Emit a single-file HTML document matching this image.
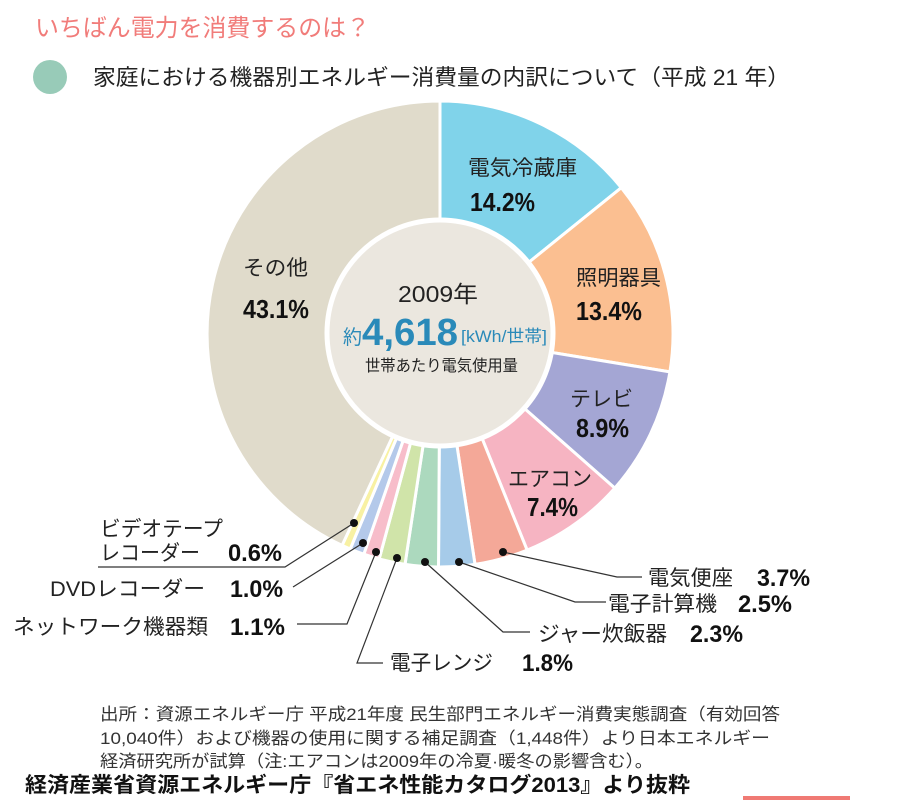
<!DOCTYPE html>
<html>
<head>
<meta charset="utf-8">
<style>
html,body{margin:0;padding:0;background:#fff;}
svg{display:block;}
text{font-family:"Liberation Sans","Noto Sans CJK JP",sans-serif;}
.b{font-weight:bold;}
</style>
</head>
<body>
<svg width="900" height="800" viewBox="0 0 900 800" xmlns="http://www.w3.org/2000/svg">
<rect width="900" height="800" fill="#fff"/>

<!-- Title -->
<text x="35" y="36" font-size="24" fill="#f17c7a" textLength="335" lengthAdjust="spacingAndGlyphs">いちばん電力を消費するのは？</text>

<!-- Subtitle -->
<circle cx="50" cy="77" r="17" fill="#98cbb8"/>
<text x="93" y="85" font-size="22" fill="#222" textLength="697" lengthAdjust="spacingAndGlyphs">家庭における機器別エネルギー消費量の内訳について（平成 21 年）</text>

<!-- Pie -->
<g stroke="#fff" stroke-width="3" stroke-linejoin="round">
<path d="M440,334 L440,101 A233,233 0 0,1 621.3,187.7 Z" fill="#80d3ea"/>
<path d="M440,334 L621.3,187.7 A233,233 0 0,1 669.9,371.9 Z" fill="#fbbf91"/>
<path d="M440,334 L669.9,371.9 A233,233 0 0,1 614.8,488.1 Z" fill="#a4a6d4"/>
<path d="M440,334 L614.8,488.1 A233,233 0 0,1 527.1,550.1 Z" fill="#f6b4c2"/>
<path d="M440,334 L527.1,550.1 A233,233 0 0,1 475.0,564.4 Z" fill="#f4a898"/>
<path d="M440,334 L475.0,564.4 A233,233 0 0,1 438.5,567.0 Z" fill="#a6cbe9"/>
<path d="M440,334 L438.5,567.0 A233,233 0 0,1 405.0,564.4 Z" fill="#acd9be"/>
<path d="M440,334 L405.0,564.4 A233,233 0 0,1 379.2,558.9 Z" fill="#d0e4a9"/>
<path d="M440,334 L379.2,558.9 A233,233 0 0,1 363.8,554.2 Z" fill="#f7bdca"/>
<path d="M440,334 L363.8,554.2 A233,233 0 0,1 350.2,549.0 Z" fill="#b4c9ea"/>
<path d="M440,334 L350.2,549.0 A233,233 0 0,1 342.1,545.4 Z" fill="#f8f1a3"/>
<path d="M440,334 L342.1,545.4 A233,233 0 0,1 440,101 Z" fill="#e0dbcb"/>
</g>
<circle cx="440" cy="333" r="113" fill="#ebe7df" stroke="#fff" stroke-width="5"/>

<!-- Center text -->
<text x="398" y="302" font-size="23" fill="#222" textLength="80" lengthAdjust="spacingAndGlyphs">2009年</text>
<text x="343" y="344" font-size="20" fill="#2a8ab9" textLength="19" lengthAdjust="spacingAndGlyphs">約</text>
<text x="362" y="345" font-size="38" class="b" fill="#2a8ab9" textLength="96" lengthAdjust="spacingAndGlyphs">4,618</text>
<text x="461" y="342" font-size="17" fill="#2a8ab9" textLength="86" lengthAdjust="spacingAndGlyphs">[kWh/世帯]</text>
<text x="365" y="371" font-size="16" fill="#222" textLength="153" lengthAdjust="spacingAndGlyphs">世帯あたり電気使用量</text>

<!-- In-pie labels -->
<g fill="#222" font-size="21">
<text x="468" y="175" textLength="109" lengthAdjust="spacingAndGlyphs">電気冷蔵庫</text>
<text x="576" y="285" textLength="85" lengthAdjust="spacingAndGlyphs">照明器具</text>
<text x="570" y="406" textLength="63" lengthAdjust="spacingAndGlyphs">テレビ</text>
<text x="508" y="486" textLength="84" lengthAdjust="spacingAndGlyphs">エアコン</text>
<text x="243" y="275" textLength="65" lengthAdjust="spacingAndGlyphs">その他</text>
</g>
<g fill="#111" font-size="26" class="b">
<text x="470" y="211" textLength="65" lengthAdjust="spacingAndGlyphs">14.2%</text>
<text x="576" y="320" textLength="66" lengthAdjust="spacingAndGlyphs">13.4%</text>
<text x="576" y="437" textLength="53" lengthAdjust="spacingAndGlyphs">8.9%</text>
<text x="527" y="516" textLength="51" lengthAdjust="spacingAndGlyphs">7.4%</text>
<text x="243" y="318" textLength="66" lengthAdjust="spacingAndGlyphs">43.1%</text>
</g>

<!-- Leader lines -->
<g stroke="#333" stroke-width="1.2" fill="none">
<polyline points="503,552 617,577 642,577"/>
<polyline points="459,562 575,602 606,602"/>
<polyline points="425,562 503,632 530,632"/>
<polyline points="397,558 357,663 383,663"/>
<polyline points="376,552 347,624 297,624"/>
<polyline points="363,543 293,587"/>
<polyline points="354,523 285,567 98,567"/>
</g>
<g fill="#111">
<circle cx="503" cy="552" r="4"/>
<circle cx="459" cy="562" r="4"/>
<circle cx="425" cy="562" r="4"/>
<circle cx="397" cy="558" r="4"/>
<circle cx="376" cy="552" r="4"/>
<circle cx="363" cy="543" r="4"/>
<circle cx="354" cy="523" r="4"/>
</g>

<!-- Outer labels -->
<g fill="#222" font-size="21">
<text x="648" y="585" textLength="85" lengthAdjust="spacingAndGlyphs">電気便座</text>
<text x="608" y="611" textLength="109" lengthAdjust="spacingAndGlyphs">電子計算機</text>
<text x="538" y="641" textLength="129" lengthAdjust="spacingAndGlyphs">ジャー炊飯器</text>
<text x="390" y="670" textLength="103" lengthAdjust="spacingAndGlyphs">電子レンジ</text>
<text x="100" y="536" textLength="123" lengthAdjust="spacingAndGlyphs">ビデオテープ</text>
<text x="100" y="560" textLength="100" lengthAdjust="spacingAndGlyphs">レコーダー</text>
<text x="50" y="596" textLength="155" lengthAdjust="spacingAndGlyphs">DVDレコーダー</text>
<text x="13" y="634" textLength="195" lengthAdjust="spacingAndGlyphs">ネットワーク機器類</text>
</g>
<g fill="#111" font-size="24" class="b">
<text x="757" y="586" textLength="53" lengthAdjust="spacingAndGlyphs">3.7%</text>
<text x="738" y="612" textLength="54" lengthAdjust="spacingAndGlyphs">2.5%</text>
<text x="690" y="642" textLength="53" lengthAdjust="spacingAndGlyphs">2.3%</text>
<text x="522" y="671" textLength="51" lengthAdjust="spacingAndGlyphs">1.8%</text>
<text x="228" y="561" textLength="54" lengthAdjust="spacingAndGlyphs">0.6%</text>
<text x="230" y="597" textLength="53" lengthAdjust="spacingAndGlyphs">1.0%</text>
<text x="230" y="635" textLength="55" lengthAdjust="spacingAndGlyphs">1.1%</text>
</g>

<!-- Footer -->
<g fill="#333" font-size="17">
<text x="100" y="720" textLength="680" lengthAdjust="spacingAndGlyphs">出所：資源エネルギー庁 平成21年度 民生部門エネルギー消費実態調査（有効回答</text>
<text x="100" y="744" textLength="670" lengthAdjust="spacingAndGlyphs">10,040件）および機器の使用に関する補足調査（1,448件）より日本エネルギー</text>
<text x="100" y="767" textLength="553" lengthAdjust="spacingAndGlyphs">経済研究所が試算（注:エアコンは2009年の冷夏·暖冬の影響含む）。</text>
</g>
<text x="25" y="792" font-size="21" class="b" fill="#111" textLength="665" lengthAdjust="spacingAndGlyphs">経済産業省資源エネルギー庁『省エネ性能カタログ2013』より抜粋</text>
<rect x="743" y="796" width="107" height="4" fill="#f07a74"/>
</svg>
</body>
</html>
